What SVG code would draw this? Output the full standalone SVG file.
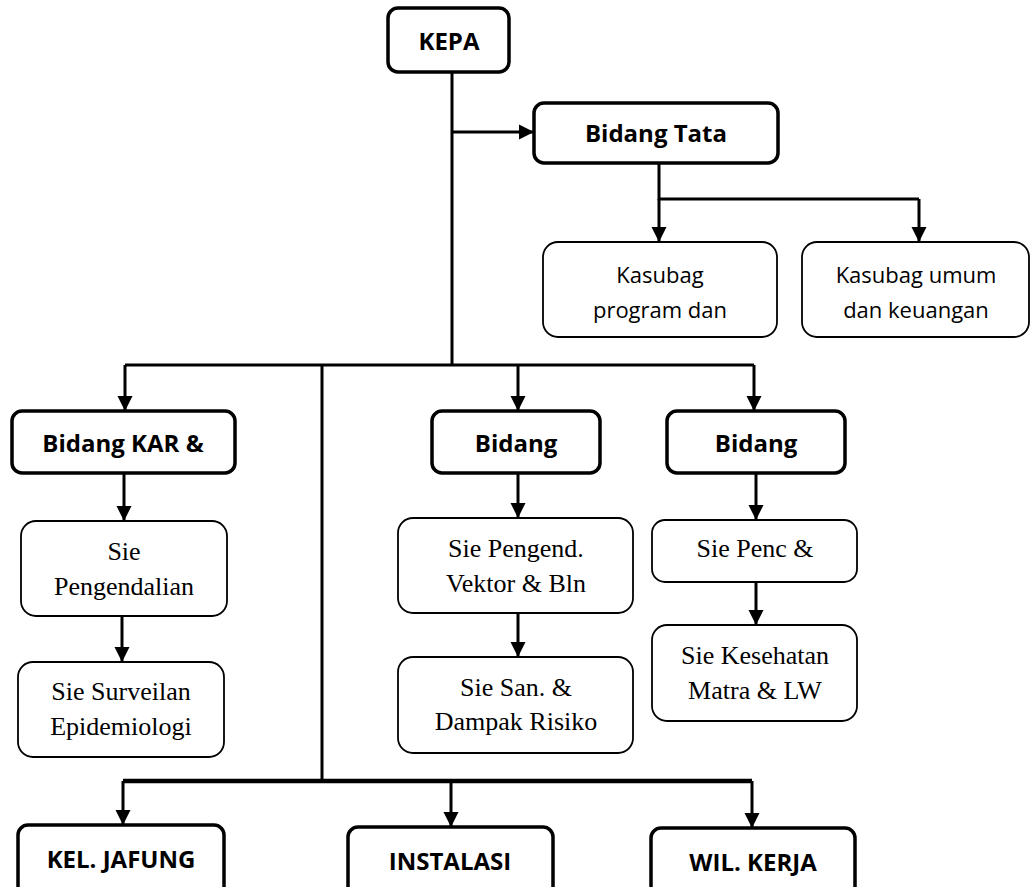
<svg xmlns="http://www.w3.org/2000/svg" width="1031" height="887" viewBox="0 0 1031 887">
<style>
.bold{fill:#fff;stroke:#000;stroke-width:3.5}
.thin{fill:#fff;stroke:#000;stroke-width:1.8}
.hb{font-family:"Open Sans","Liberation Sans",sans-serif;font-weight:bold;font-size:24px;fill:#000;text-anchor:middle}
.hs{font-family:"Open Sans","Liberation Sans",sans-serif;font-size:22px;fill:#000;text-anchor:middle}
.tr{font-family:"Liberation Serif","Times New Roman",serif;font-size:26px;fill:#000;text-anchor:middle}
.c{fill:none;stroke:#000;stroke-width:3}
.a{fill:none;stroke:#000;stroke-width:3;marker-end:url(#ah)}
</style>
<defs>
<marker id="ah" markerUnits="userSpaceOnUse" markerWidth="16" markerHeight="16" viewBox="0 0 16 16" refX="15" refY="8" orient="auto">
<path d="M0,0.5 L15,8 L0,15.5 z" fill="#000"/>
</marker>
</defs>
<rect width="1031" height="887" fill="#fff"/>
<g id="connectors">
<path class="c" d="M452,72 V365"/>
<path class="a" d="M452,132 H534"/>
<path class="c" d="M659,163 V199 H919"/>
<path class="a" d="M659,199 V242"/>
<path class="a" d="M919,199 V242"/>
<path class="c" d="M125,365 H754"/>
<path class="a" d="M125,365 V411"/>
<path class="a" d="M518,365 V411"/>
<path class="a" d="M754,365 V411"/>
<path class="a" d="M124,473 V521"/>
<path class="a" d="M122,616 V662"/>
<path class="a" d="M518,473 V518"/>
<path class="a" d="M518,613 V657"/>
<path class="a" d="M756,473 V520"/>
<path class="a" d="M756,582 V625"/>
<path class="c" d="M322,365 V781"/>
<path class="c" style="stroke-width:4.5" d="M123,781 H752"/>
<path class="a" d="M123,781 V825"/>
<path class="a" d="M451,781 V827"/>
<path class="a" d="M752,781 V828"/>
</g>
<g id="kepa"><rect class="bold" x="388" y="8" width="121" height="64" rx="10"/><text class="hb" x="449" y="50">KEPA</text></g>
<g id="bidang-tata"><rect class="bold" x="534" y="103" width="244" height="60" rx="10"/><text class="hb" x="656" y="142">Bidang Tata</text></g>
<g id="kasubag-program"><rect class="thin" x="543" y="242" width="234" height="95" rx="15"/><text class="hs" x="660" y="283">Kasubag</text><text class="hs" x="660" y="318">program dan</text></g>
<g id="kasubag-umum"><rect class="thin" x="802" y="242" width="227" height="95" rx="15"/><text class="hs" x="916" y="283">Kasubag umum</text><text class="hs" x="916" y="318">dan keuangan</text></g>
<g id="bidang-kar"><rect class="bold" x="12" y="411" width="223" height="62" rx="10"/><text class="hb" x="123" y="452">Bidang KAR &amp;</text></g>
<g id="bidang-2"><rect class="bold" x="432" y="411" width="168" height="62" rx="10"/><text class="hb" x="516" y="452">Bidang</text></g>
<g id="bidang-3"><rect class="bold" x="667" y="411" width="178" height="62" rx="10"/><text class="hb" x="756" y="452">Bidang</text></g>
<g id="sie-pengendalian"><rect class="thin" x="21" y="521" width="206" height="95" rx="15"/><text class="tr" x="124" y="560">Sie</text><text class="tr" x="124" y="595">Pengendalian</text></g>
<g id="sie-surveilan"><rect class="thin" x="18" y="662" width="206" height="95" rx="15"/><text class="tr" x="121" y="700">Sie Surveilan</text><text class="tr" x="121" y="735">Epidemiologi</text></g>
<g id="sie-pengend-vektor"><rect class="thin" x="398" y="518" width="235" height="95" rx="15"/><text class="tr" x="516" y="557">Sie Pengend.</text><text class="tr" x="516" y="592">Vektor &amp; Bln</text></g>
<g id="sie-san"><rect class="thin" x="398" y="657" width="235" height="96" rx="15"/><text class="tr" x="516" y="696">Sie San. &amp;</text><text class="tr" x="516" y="730">Dampak Risiko</text></g>
<g id="sie-penc"><rect class="thin" x="652" y="520" width="205" height="62" rx="13"/><text class="tr" x="755" y="557">Sie Penc &amp;</text></g>
<g id="sie-kesehatan"><rect class="thin" x="652" y="625" width="205" height="96" rx="15"/><text class="tr" x="755" y="664">Sie Kesehatan</text><text class="tr" x="755" y="699">Matra &amp; LW</text></g>
<g id="kel-jafung"><rect class="bold" x="18" y="825" width="206" height="80" rx="10"/><text class="hb" x="121" y="868">KEL. JAFUNG</text></g>
<g id="instalasi"><rect class="bold" x="348" y="827" width="205" height="80" rx="10"/><text class="hb" x="450" y="870">INSTALASI</text></g>
<g id="wil-kerja"><rect class="bold" x="651" y="828" width="204" height="80" rx="10"/><text class="hb" x="753" y="871">WIL. KERJA</text></g>
</svg>
